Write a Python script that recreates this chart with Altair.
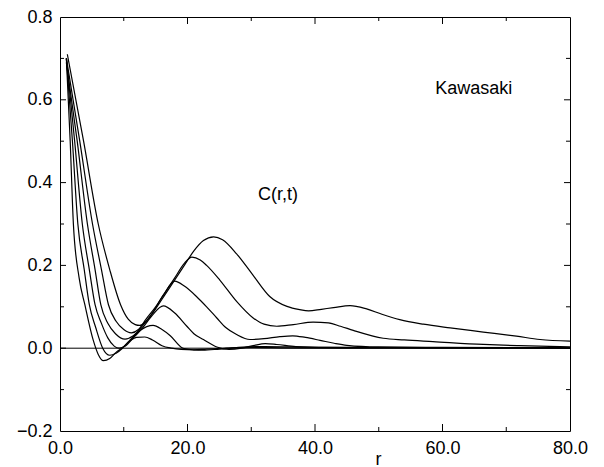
import altair as alt
import pandas as pd

# ---- data ----
r1 = [1, 1.6, 2.1, 3, 3.9, 5.2, 6, 6.8, 7.8, 8.8, 9.7, 11, 12, 13.3, 14.5, 16, 17.5, 19, 21, 23, 26, 30, 35, 45, 60, 80]
c1 = [0.70, 0.50, 0.30, 0.17, 0.105, 0.02, -0.015, -0.03, -0.025, -0.01, 0.0, 0.018, 0.026, 0.027, 0.02, 0.006, 0.0, -0.003, -0.004, -0.002, 0.0, 0.002, 0.001, 0.0, 0.001, 0.0]

r2 = [1, 1.95, 2.8, 3.8, 4.6, 5.6, 6.7, 7.8, 8.8, 9.8, 11, 12.5, 14.6, 16, 17.3, 19.3, 21, 22.4, 25, 28, 32, 40, 60, 80]
c2 = [0.70, 0.50, 0.30, 0.19, 0.105, 0.05, 0.0, -0.017, -0.012, 0.0, 0.02, 0.042, 0.055, 0.045, 0.03, 0.0, -0.004, -0.005, -0.002, 0.002, 0.004, 0.002, 0.001, 0.001]

r3 = [1, 2.3, 3.5, 4.6, 5.5, 6.5, 7.5, 8.5, 9.3, 10.2, 11.5, 13, 14.5, 16.2, 18, 19.9, 21, 22.5, 24.6, 26.5, 28.5, 30.5, 32.2, 34, 37, 42, 60, 80]
c3 = [0.70, 0.50, 0.30, 0.19, 0.105, 0.06, 0.025, 0.005, 0.0, 0.005, 0.025, 0.05, 0.08, 0.102, 0.085, 0.053, 0.035, 0.021, 0.003, -0.003, 0.0, 0.007, 0.011, 0.009, 0.004, 0.002, 0.001, 0.001]

r4 = [1, 2.7, 4.3, 5.5, 6.4, 7.5, 8.7, 10.2, 11.5, 13, 14.5, 16.2, 18, 19.5, 21.4, 23, 24.6, 26, 27.7, 29.8, 32, 34.5, 36.5, 38.5, 40.8, 43, 45, 50, 60, 80]
c4 = [0.69, 0.50, 0.30, 0.19, 0.105, 0.06, 0.035, 0.022, 0.03, 0.055, 0.085, 0.128, 0.162, 0.15, 0.125, 0.10, 0.073, 0.05, 0.033, 0.021, 0.023, 0.028, 0.03, 0.026, 0.019, 0.012, 0.007, 0.003, 0.002, 0.001]

r5 = [1, 3.1, 5.1, 6.5, 7.6, 8.8, 10, 11.2, 12.3, 13.5, 15, 16.5, 18, 19.5, 20.7, 22, 23, 25.1, 27.7, 30.3, 32, 34, 36.6, 39.7, 42.1, 44, 46, 50.7, 54, 58.5, 66.4, 72, 80]
c5 = [0.70, 0.50, 0.30, 0.19, 0.105, 0.065, 0.045, 0.037, 0.045, 0.07, 0.10, 0.135, 0.17, 0.205, 0.22, 0.213, 0.20, 0.164, 0.113, 0.073, 0.058, 0.053, 0.057, 0.063, 0.061, 0.053, 0.043, 0.024, 0.02, 0.016, 0.009, 0.006, 0.003]

r6 = [1.15, 3.7, 6.0, 7.8, 9.5, 10.7, 11.8, 12.5, 13.5, 15, 16.5, 18, 19.5, 21, 22.5, 24.1, 25.5, 27.7, 30.3, 32.9, 35.6, 37.6, 39, 41, 42.9, 45.5, 48.1, 50.5, 53.3, 57, 61.2, 66.4, 71.6, 75.3, 80]
c6 = [0.71, 0.50, 0.30, 0.19, 0.105, 0.07, 0.057, 0.055, 0.065, 0.095, 0.13, 0.165, 0.20, 0.235, 0.26, 0.269, 0.262, 0.228, 0.176, 0.125, 0.101, 0.093, 0.09, 0.094, 0.098, 0.103, 0.095, 0.082, 0.069, 0.058, 0.049, 0.039, 0.029, 0.021, 0.017]

x_ticks_major = [20, 40, 60]
x_ticks_minor = [10, 30, 50, 70]
y_ticks_major = [0.0, 0.2, 0.4, 0.6]
y_ticks_minor = [-0.1, 0.1, 0.3, 0.5, 0.7]
x_labels = [0, 20, 40, 60, 80]
y_labels = [-0.2, 0.0, 0.2, 0.4, 0.6, 0.8]

annotations = pd.DataFrame({
    "r": [64.9, 34.2],
    "c": [0.614, 0.359],
    "label": ["Kawasaki", "C(r,t)"],
})

# ---- build table ----
rows = []
for i, (rs, cs) in enumerate([(r1, c1), (r2, c2), (r3, c3), (r4, c4), (r5, c5), (r6, c6)], start=1):
    for r, c in zip(rs, cs):
        rows.append({"series": f"t{i}", "r": r, "c": c})
df = pd.DataFrame(rows)

W, H = 510, 414
FONT = "Liberation Sans"

xscale = alt.Scale(domain=[0, 80], nice=False, zero=False)
yscale = alt.Scale(domain=[-0.2, 0.8], nice=False, zero=False)

xaxis = alt.Axis(values=x_labels, format=".1f", ticks=False, tickSize=0, domain=False, grid=False,
                 labelFlush=False, labelOverlap=False,
                 labelFont=FONT, labelFontSize=18, labelColor="black", labelPadding=8,
                 title="r", titleFont=FONT, titleFontSize=18, titleFontWeight="normal",
                 titleColor="black", titleX=318, titleY=33, titleBaseline="alphabetic")
yaxis = alt.Axis(values=y_labels, format=".1f", ticks=False, tickSize=0, domain=False, grid=False,
                 labelFlush=False, labelOverlap=False,
                 labelFont=FONT, labelFontSize=18, labelColor="black", labelPadding=8, title=None)

base = alt.Chart(df)

lines = base.mark_line(color="black", strokeWidth=1.2, interpolate="monotone", clip=True).encode(
    x=alt.X("r:Q", scale=xscale, axis=xaxis),
    y=alt.Y("c:Q", scale=yscale, axis=yaxis),
    detail="series:N",
)

zero = alt.Chart(pd.DataFrame({"c": [0.0]})).mark_rule(color="black", strokeWidth=1).encode(
    y=alt.Y("c:Q", scale=yscale)
)

def xt(vals, length):
    d = pd.DataFrame({"r": vals})
    bottom = alt.Chart(d).mark_rule(color="black", strokeWidth=1).encode(
        x=alt.X("r:Q", scale=xscale), y=alt.value(H), y2=alt.value(H - length))
    top = alt.Chart(d).mark_rule(color="black", strokeWidth=1).encode(
        x=alt.X("r:Q", scale=xscale), y=alt.value(0), y2=alt.value(length))
    return [bottom, top]

def yt(vals, length):
    d = pd.DataFrame({"c": vals})
    left = alt.Chart(d).mark_rule(color="black", strokeWidth=1).encode(
        y=alt.Y("c:Q", scale=yscale), x=alt.value(0), x2=alt.value(length))
    right = alt.Chart(d).mark_rule(color="black", strokeWidth=1).encode(
        y=alt.Y("c:Q", scale=yscale), x=alt.value(W), x2=alt.value(W - length))
    return [left, right]

ticks = xt(x_ticks_major, 7) + xt(x_ticks_minor, 4) + yt(y_ticks_major, 6) + yt(y_ticks_minor, 4)

texts = alt.Chart(annotations).mark_text(font=FONT, fontSize=18, color="black",
                                         align="center", baseline="alphabetic").encode(
    x=alt.X("r:Q", scale=xscale), y=alt.Y("c:Q", scale=yscale), text="label:N")

chart = alt.layer(lines, zero, *ticks, texts).properties(
    width=W, height=H,
    autosize=alt.AutoSizeParams(type="none"),
    padding={"left": 52, "top": 9, "right": 26, "bottom": 36},
    background="white",
).configure_view(stroke="black", strokeWidth=1)

chart.save("out.html", embed_options={"renderer": "svg", "actions": False})
